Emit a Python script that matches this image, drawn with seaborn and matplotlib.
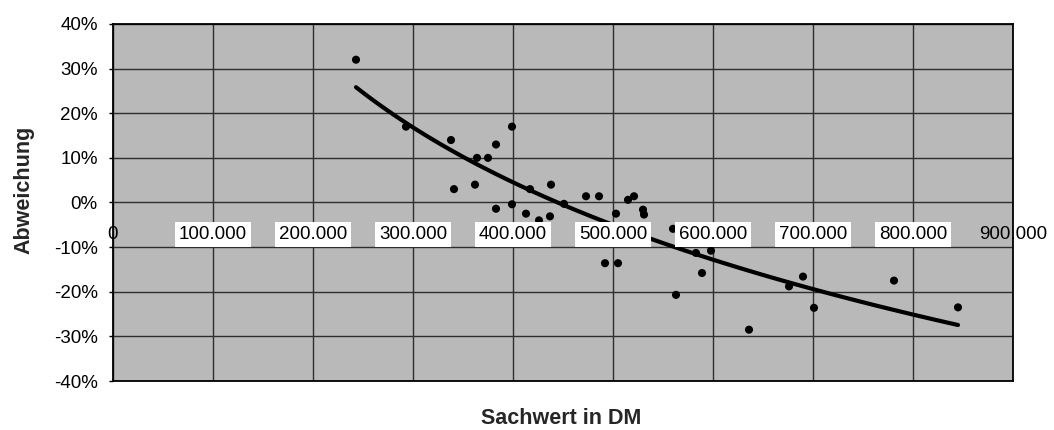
import numpy as np
import pandas as pd
import matplotlib
matplotlib.use("Agg")
import matplotlib.pyplot as plt
import seaborn as sns
from matplotlib.ticker import PercentFormatter, MultipleLocator

# ---- data ----
sachwert_tsd = [243, 293, 338, 341, 362, 364, 375, 383, 383, 399, 399, 413, 417,
                426, 437, 438, 451, 473, 486, 492, 503, 505, 515, 521, 530, 531,
                560, 563, 583, 589, 598, 636, 676, 690, 701, 781, 845]
abweichung_pct = [32, 17, 14, 3, 4, 10, 10, 13, -1.4, 17, -0.4, -2.5, 3,
                  -4, -3.1, 4, -0.3, 1.4, 1.4, -13.6, -2.5, -13.6, 0.6, 1.4, -1.6, -2.7,
                  -5.9, -20.7, -11.3, -15.8, -10.8, -28.5, -18.8, -16.6, -23.6, -17.5, -23.5]
x_ticks = [0, 100000, 200000, 300000, 400000, 500000, 600000, 700000, 800000, 900000]
x_tick_labels = ["0", "100.000", "200.000", "300.000", "400.000", "500.000",
                 "600.000", "700.000", "800.000", "900.000"]

df = pd.DataFrame({
    "Sachwert": np.array(sachwert_tsd) * 1000.0,
    "Abweichung": np.array(abweichung_pct) / 100.0,
})

sns.set_style("white")
plt.rcParams["font.family"] = ["Liberation Sans", "DejaVu Sans"]
plt.rcParams["axes.unicode_minus"] = False

W, H = 1054, 430
fig = plt.figure(figsize=(W / 100, H / 100), dpi=100)
fig.patch.set_facecolor("white")
ax = fig.add_axes([113 / W, 1 - 381 / H, 900 / W, 357 / H])
ax.set_facecolor("#b9b9b9")

sns.regplot(data=df, x="Sachwert", y="Abweichung", logx=True, scatter=False, ci=None,
            color="black", line_kws={"lw": 3.0, "zorder": 4}, ax=ax)
sns.scatterplot(data=df, x="Sachwert", y="Abweichung", color="black", s=34,
                edgecolor="none", zorder=5, ax=ax, legend=False)

ax.set_xlim(0, 900000)
ax.set_ylim(-0.4, 0.4)
ax.set_xticks(x_ticks)
ax.set_xticklabels([])
ax.tick_params(axis="x", length=0)
ax.yaxis.set_major_locator(MultipleLocator(0.1))
ax.yaxis.set_major_formatter(PercentFormatter(1.0, decimals=0))
ax.tick_params(axis="y", length=3, width=1, pad=8, labelsize=13.5, colors="black", left=True)
ax.grid(True, color="#2e2e2e", lw=1.0)
ax.set_axisbelow(True)
for s in ax.spines.values():
    s.set_color("black")
    s.set_linewidth(1.3)
    s.set_zorder(8)
ax.set_xlabel("")
ax.set_ylabel("")

for t, lab in zip(x_ticks, x_tick_labels):
    boxed = t not in (x_ticks[0], x_ticks[-1])
    bbox = dict(boxstyle="square,pad=0.2", fc="white", ec="none") if boxed else None
    ax.annotate(lab, xy=(t, 0), xytext=(0, -23), textcoords="offset points",
                ha="center", va="center", fontsize=13.5, color="black",
                bbox=bbox, annotation_clip=False, zorder=6)

fig.text(24 / W, 1 - 190 / H, "Abweichung", rotation=90, ha="center", va="center",
         fontsize=15.5, fontweight="bold")
fig.text(561 / W, 1 - 419 / H, "Sachwert in DM", ha="center", va="center",
         fontsize=15.5, fontweight="bold")

fig.savefig("out.png", dpi=100)
